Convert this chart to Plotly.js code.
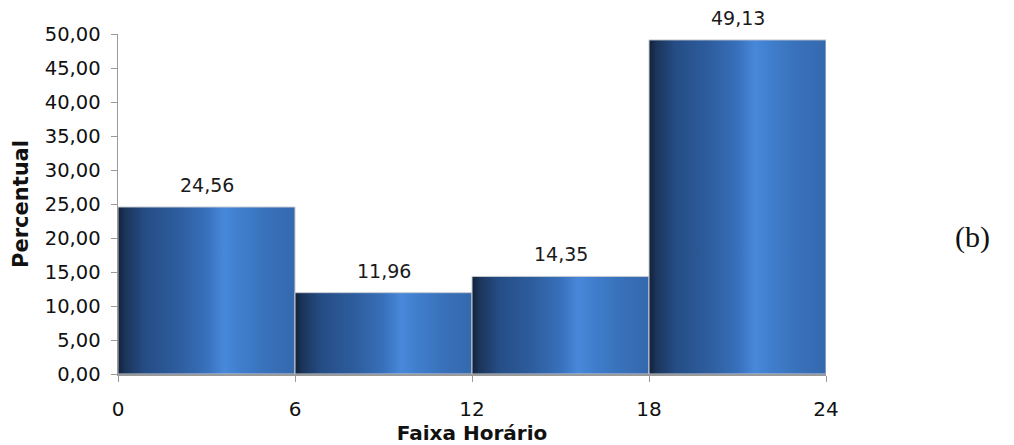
<!DOCTYPE html>
<html>
<head>
<meta charset="utf-8">
<script src="https://cdn.plot.ly/plotly-3.0.1.min.js"></script>
<style>html,body{margin:0;padding:0;background:#fff;}#chart{width:1014px;height:445px;}</style>
</head>
<body>
<div id="chart"></div>
<script>
// Data
const binEdges = [0, 6, 12, 18, 24];
const percentValues = [24.56, 11.96, 14.35, 49.13];
const yTickValues = [0, 5, 10, 15, 20, 25, 30, 35, 40, 45, 50];

const gradient = [
  [0.00, '#122139'],
  [0.04, '#1b3459'],
  [0.15, '#254d85'],
  [0.35, '#2e5e9f'],
  [0.50, '#3870bb'],
  [0.60, '#4888da'],
  [0.70, '#3f7dcb'],
  [0.85, '#3870b9'],
  [1.00, '#3569ae']
];

const traces = [];
percentValues.forEach((v, i) => {
  const x0 = binEdges[i], x1 = binEdges[i + 1];
  traces.push({
    type: 'scatter',
    mode: 'lines',
    x: [x0, x0, x1, x1, x0],
    y: [0, v, v, 0, 0],
    fill: 'toself',
    fillgradient: {type: 'horizontal', colorscale: gradient},
    line: {color: '#c9ccd2', width: 1},
    hoverinfo: 'skip',
    showlegend: false
  });
});

const fmt = v => v.toFixed(2).replace('.', ',');
const annotations = percentValues.map((v, i) => ({
  x: (binEdges[i] + binEdges[i + 1]) / 2,
  y: v,
  xref: 'x', yref: 'y',
  text: fmt(v),
  showarrow: false,
  yanchor: 'bottom',
  yshift: 9,
  font: {family: 'DejaVu Sans', size: 19, color: '#1a1a1a'}
}));
annotations.push({
  x: 1.2345, y: 0.403, xref: 'paper', yref: 'paper',
  text: '(b)', showarrow: false,
  font: {family: 'Liberation Serif', size: 30, color: '#111'}
});

const layout = {
  width: 1014, height: 445,
  margin: {l: 118, r: 188, t: 34, b: 71},
  paper_bgcolor: '#fff', plot_bgcolor: '#fff',
  separators: ', ',
  showlegend: false,
  xaxis: {
    range: [0, 24],
    tickvals: binEdges,
    ticktext: binEdges.map(String),
    ticks: 'outside', ticklen: 6, tickcolor: '#9a9a9a',
    showline: true, linecolor: '#9a9a9a', linewidth: 1.5,
    showgrid: false, zeroline: false,
    ticklabelstandoff: 10,
    tickfont: {family: 'DejaVu Sans', size: 20, color: '#111'},
    title: {text: 'Faixa Horário', standoff: 0, font: {family: 'DejaVu Sans', size: 20, color: '#111', weight: 'bold'}}
  },
  yaxis: {
    range: [0, 50],
    tickvals: yTickValues,
    tickformat: '.2f',
    ticks: 'outside', ticklen: 6, tickcolor: '#9a9a9a',
    showline: true, linecolor: '#9a9a9a', linewidth: 1.5,
    showgrid: false, zeroline: false,
    ticklabelstandoff: 6,
    tickfont: {family: 'DejaVu Sans', size: 19.5, color: '#111'},
    title: {text: 'Percentual', standoff: 10, font: {family: 'DejaVu Sans', size: 21, color: '#111', weight: 'bold'}}
  },
  annotations: annotations
};

Plotly.newPlot('chart', traces, layout, {displayModeBar: false, staticPlot: true});
</script>
</body>
</html>
